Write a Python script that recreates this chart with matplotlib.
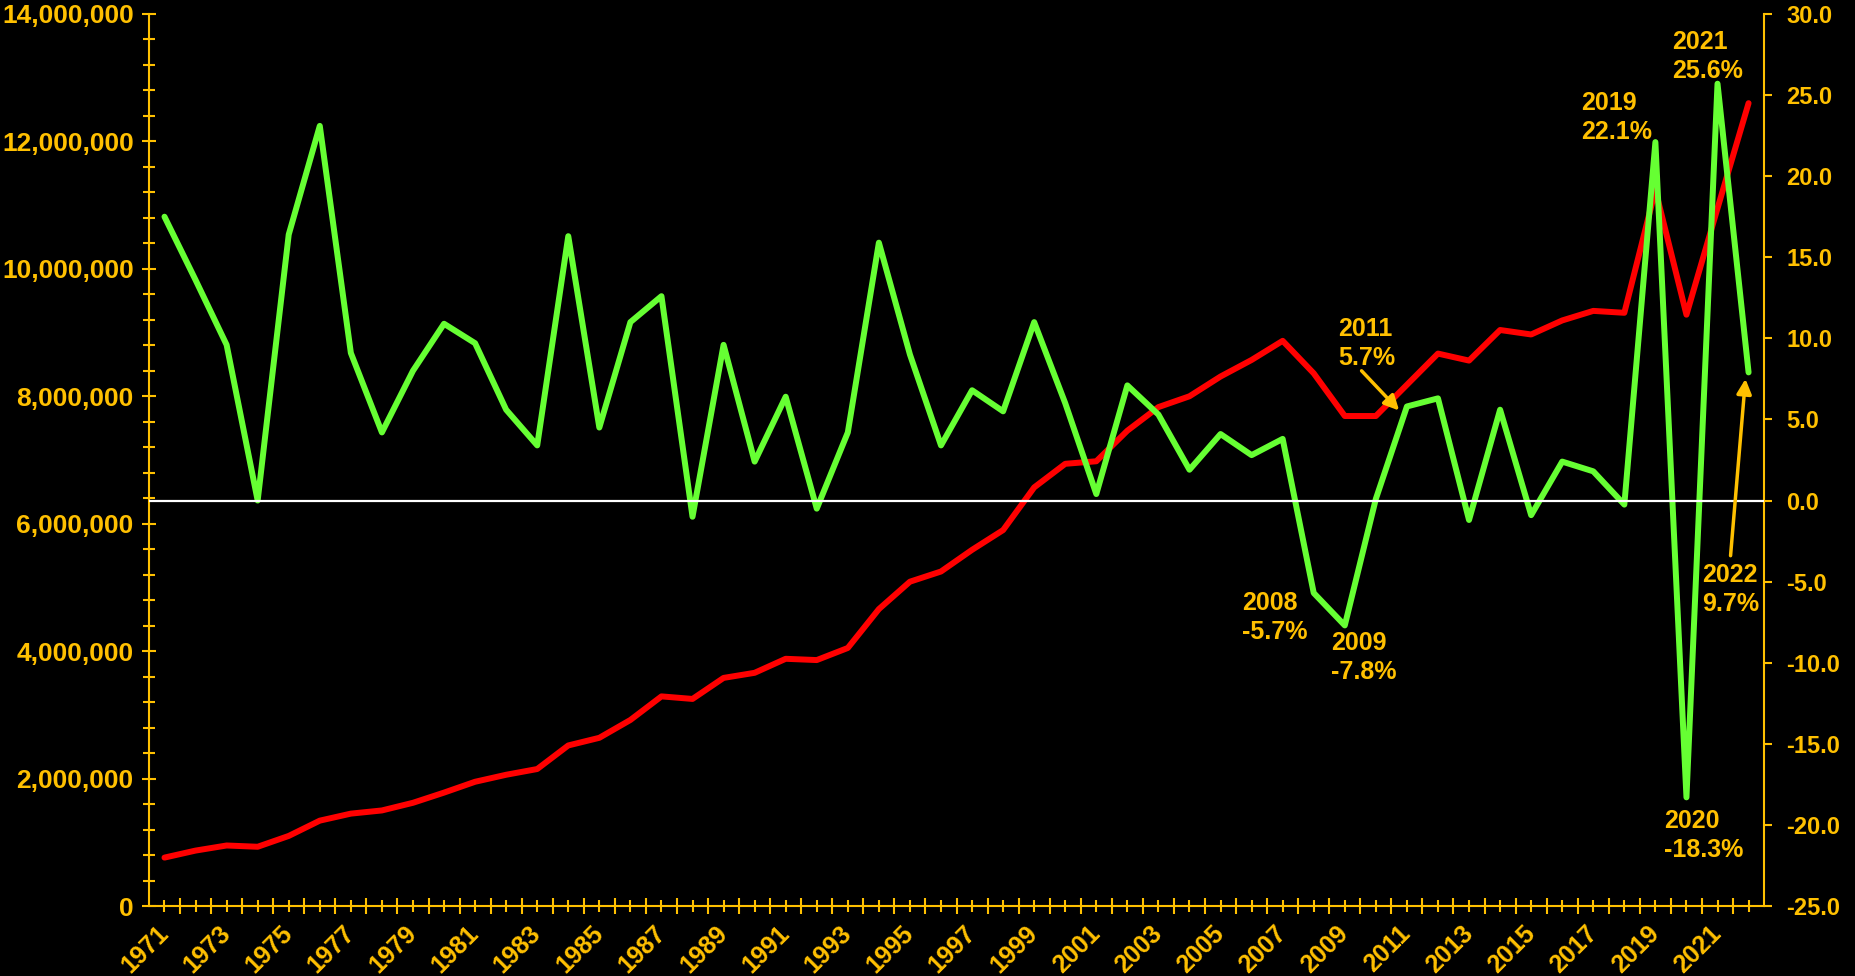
"""
Dual-axis line chart - level (left) vs. yearly % change (right), 1971-2022
"""
import matplotlib
matplotlib.use("Agg")
import matplotlib.pyplot as plt
from matplotlib.ticker import FuncFormatter, MultipleLocator

GOLD = "#FFC000"
RED = "#FF0000"
GREEN = "#66FF33"

plt.rcParams["font.family"] = ["Liberation Sans", "DejaVu Sans"]
plt.rcParams["font.weight"] = "bold"

years = list(range(1971, 2023))

# level, millions (left axis)
level_m = [
    0.76, 0.87, 0.95, 0.93, 1.10, 1.34, 1.45, 1.50, 1.62, 1.78,
    1.95, 2.06, 2.15, 2.52, 2.64, 2.92, 3.29, 3.25, 3.58, 3.66,
    3.88, 3.86, 4.05, 4.66, 5.09, 5.25, 5.59, 5.90, 6.57, 6.94,
    6.98, 7.46, 7.83, 8.00, 8.31, 8.57, 8.87, 8.36, 7.69, 7.69,
    8.18, 8.67, 8.56, 9.04, 8.97, 9.19, 9.34, 9.31, 11.24, 9.28,
    10.95, 12.60,
]

# yearly change, % (right axis)
change_pct = [
    17.5, 13.6, 9.6, 0.0, 16.4, 23.1, 9.1, 4.2, 8.0, 10.9,
    9.7, 5.6, 3.4, 16.3, 4.5, 11.0, 12.6, -1.0, 9.6, 2.4,
    6.4, -0.5, 4.2, 15.9, 9.0, 3.4, 6.8, 5.5, 11.0, 6.0,
    0.4, 7.1, 5.3, 1.9, 4.1, 2.8, 3.8, -5.7, -7.7, 0.1,
    5.8, 6.3, -1.2, 5.6, -0.9, 2.4, 1.8, -0.25, 22.1, -18.3,
    25.7, 7.9,
]

# (label, text x, text y) in right-axis data units
callouts = [
    ("2008\n-5.7%", 2005.68, -7.2),
    ("2009\n-7.8%", 2008.57, -9.7),
    ("2011\n5.7%", 2008.80, 9.7),
    ("2019\n22.1%", 2016.60, 23.6),
    ("2020\n-18.3%", 2019.27, -20.65),
    ("2021\n25.6%", 2019.53, 27.4),
    ("2022\n9.7%", 2020.49, -5.5),
]
# (tail, head) of the arrows
arrows = [
    ((2009.54, 8.0), (2010.75, 5.55)),
    ((2021.42, -3.4), (2021.9, 7.5)),
]


def plot():
    fig = plt.figure(figsize=(18.55, 9.76), dpi=100, facecolor="black")
    ax1 = fig.add_axes([0.0803, 0.0717, 0.8707, 0.914], facecolor="black")
    ax2 = ax1.twinx()

    ax1.plot(years, [v * 1e6 for v in level_m], color=RED, lw=4.3,
             solid_joinstyle="round", solid_capstyle="round", zorder=3)
    ax2.plot(years, change_pct, color=GREEN, lw=4.3,
             solid_joinstyle="round", solid_capstyle="round", zorder=3)
    ax2.axhline(0, color="white", lw=1.6, zorder=4)

    ax1.set_xlim(1970.5, 2022.5)
    ax1.set_ylim(0, 14e6)
    ax2.set_ylim(-25, 30)

    # left axis
    ax1.yaxis.set_major_locator(MultipleLocator(2e6))
    ax1.yaxis.set_minor_locator(MultipleLocator(4e5))
    ax1.yaxis.set_major_formatter(FuncFormatter(lambda v, _: f"{int(v):,}"))
    ax1.tick_params(axis="y", which="major", direction="inout", length=10,
                    width=1.5, color=GOLD, labelcolor=GOLD, labelsize=19,
                    pad=6)
    ax1.tick_params(axis="y", which="minor", direction="inout", length=8,
                    width=1.5, color=GOLD)

    # x axis
    ax1.set_xticks(years)
    ax1.set_xticklabels([str(y) if y % 2 == 1 else "" for y in years],
                        rotation=45, ha="right", va="center",
                        rotation_mode="anchor")
    ax1.set_xticks([y + 0.5 for y in years[:-1]], minor=True)
    ax1.tick_params(axis="x", which="major", direction="inout", length=8,
                    width=1.5, color=GOLD, labelcolor=GOLD, labelsize=18,
                    pad=13)
    ax1.tick_params(axis="x", which="minor", direction="inout", length=12,
                    width=1.5, color=GOLD)

    # right axis
    ax2.yaxis.set_major_locator(MultipleLocator(5))
    ax2.yaxis.set_major_formatter(FuncFormatter(lambda v, _: f"{v:.1f}"))
    ax2.tick_params(axis="y", direction="out", length=6, width=1.5,
                    color=GOLD, labelcolor=GOLD, labelsize=17, pad=10)

    for lab in (ax1.get_xticklabels() + ax1.get_yticklabels()
                + ax2.get_yticklabels()):
        lab.set_fontweight("bold")

    for ax in (ax1, ax2):
        for side in ("top", "right", "left", "bottom"):
            ax.spines[side].set_visible(False)
    for side in ("left", "bottom"):
        ax1.spines[side].set_visible(True)
        ax1.spines[side].set_color(GOLD)
        ax1.spines[side].set_linewidth(1.5)
    ax2.spines["right"].set_visible(True)
    ax2.spines["right"].set_color(GOLD)
    ax2.spines["right"].set_linewidth(1.5)

    for text, tx, ty in callouts:
        ax2.text(tx, ty, text, color=GOLD, fontsize=18, fontweight="bold",
                 ha="left", va="center", linespacing=1.25, zorder=5)
    for tail, head in arrows:
        ax2.annotate("", xy=head, xytext=tail,
                     arrowprops=dict(arrowstyle="-|>", color=GOLD, lw=2.5,
                                     mutation_scale=22, shrinkA=0, shrinkB=0),
                     zorder=5)

    fig.savefig("out.png", dpi=100, facecolor="black")


if __name__ == "__main__":
    plot()
